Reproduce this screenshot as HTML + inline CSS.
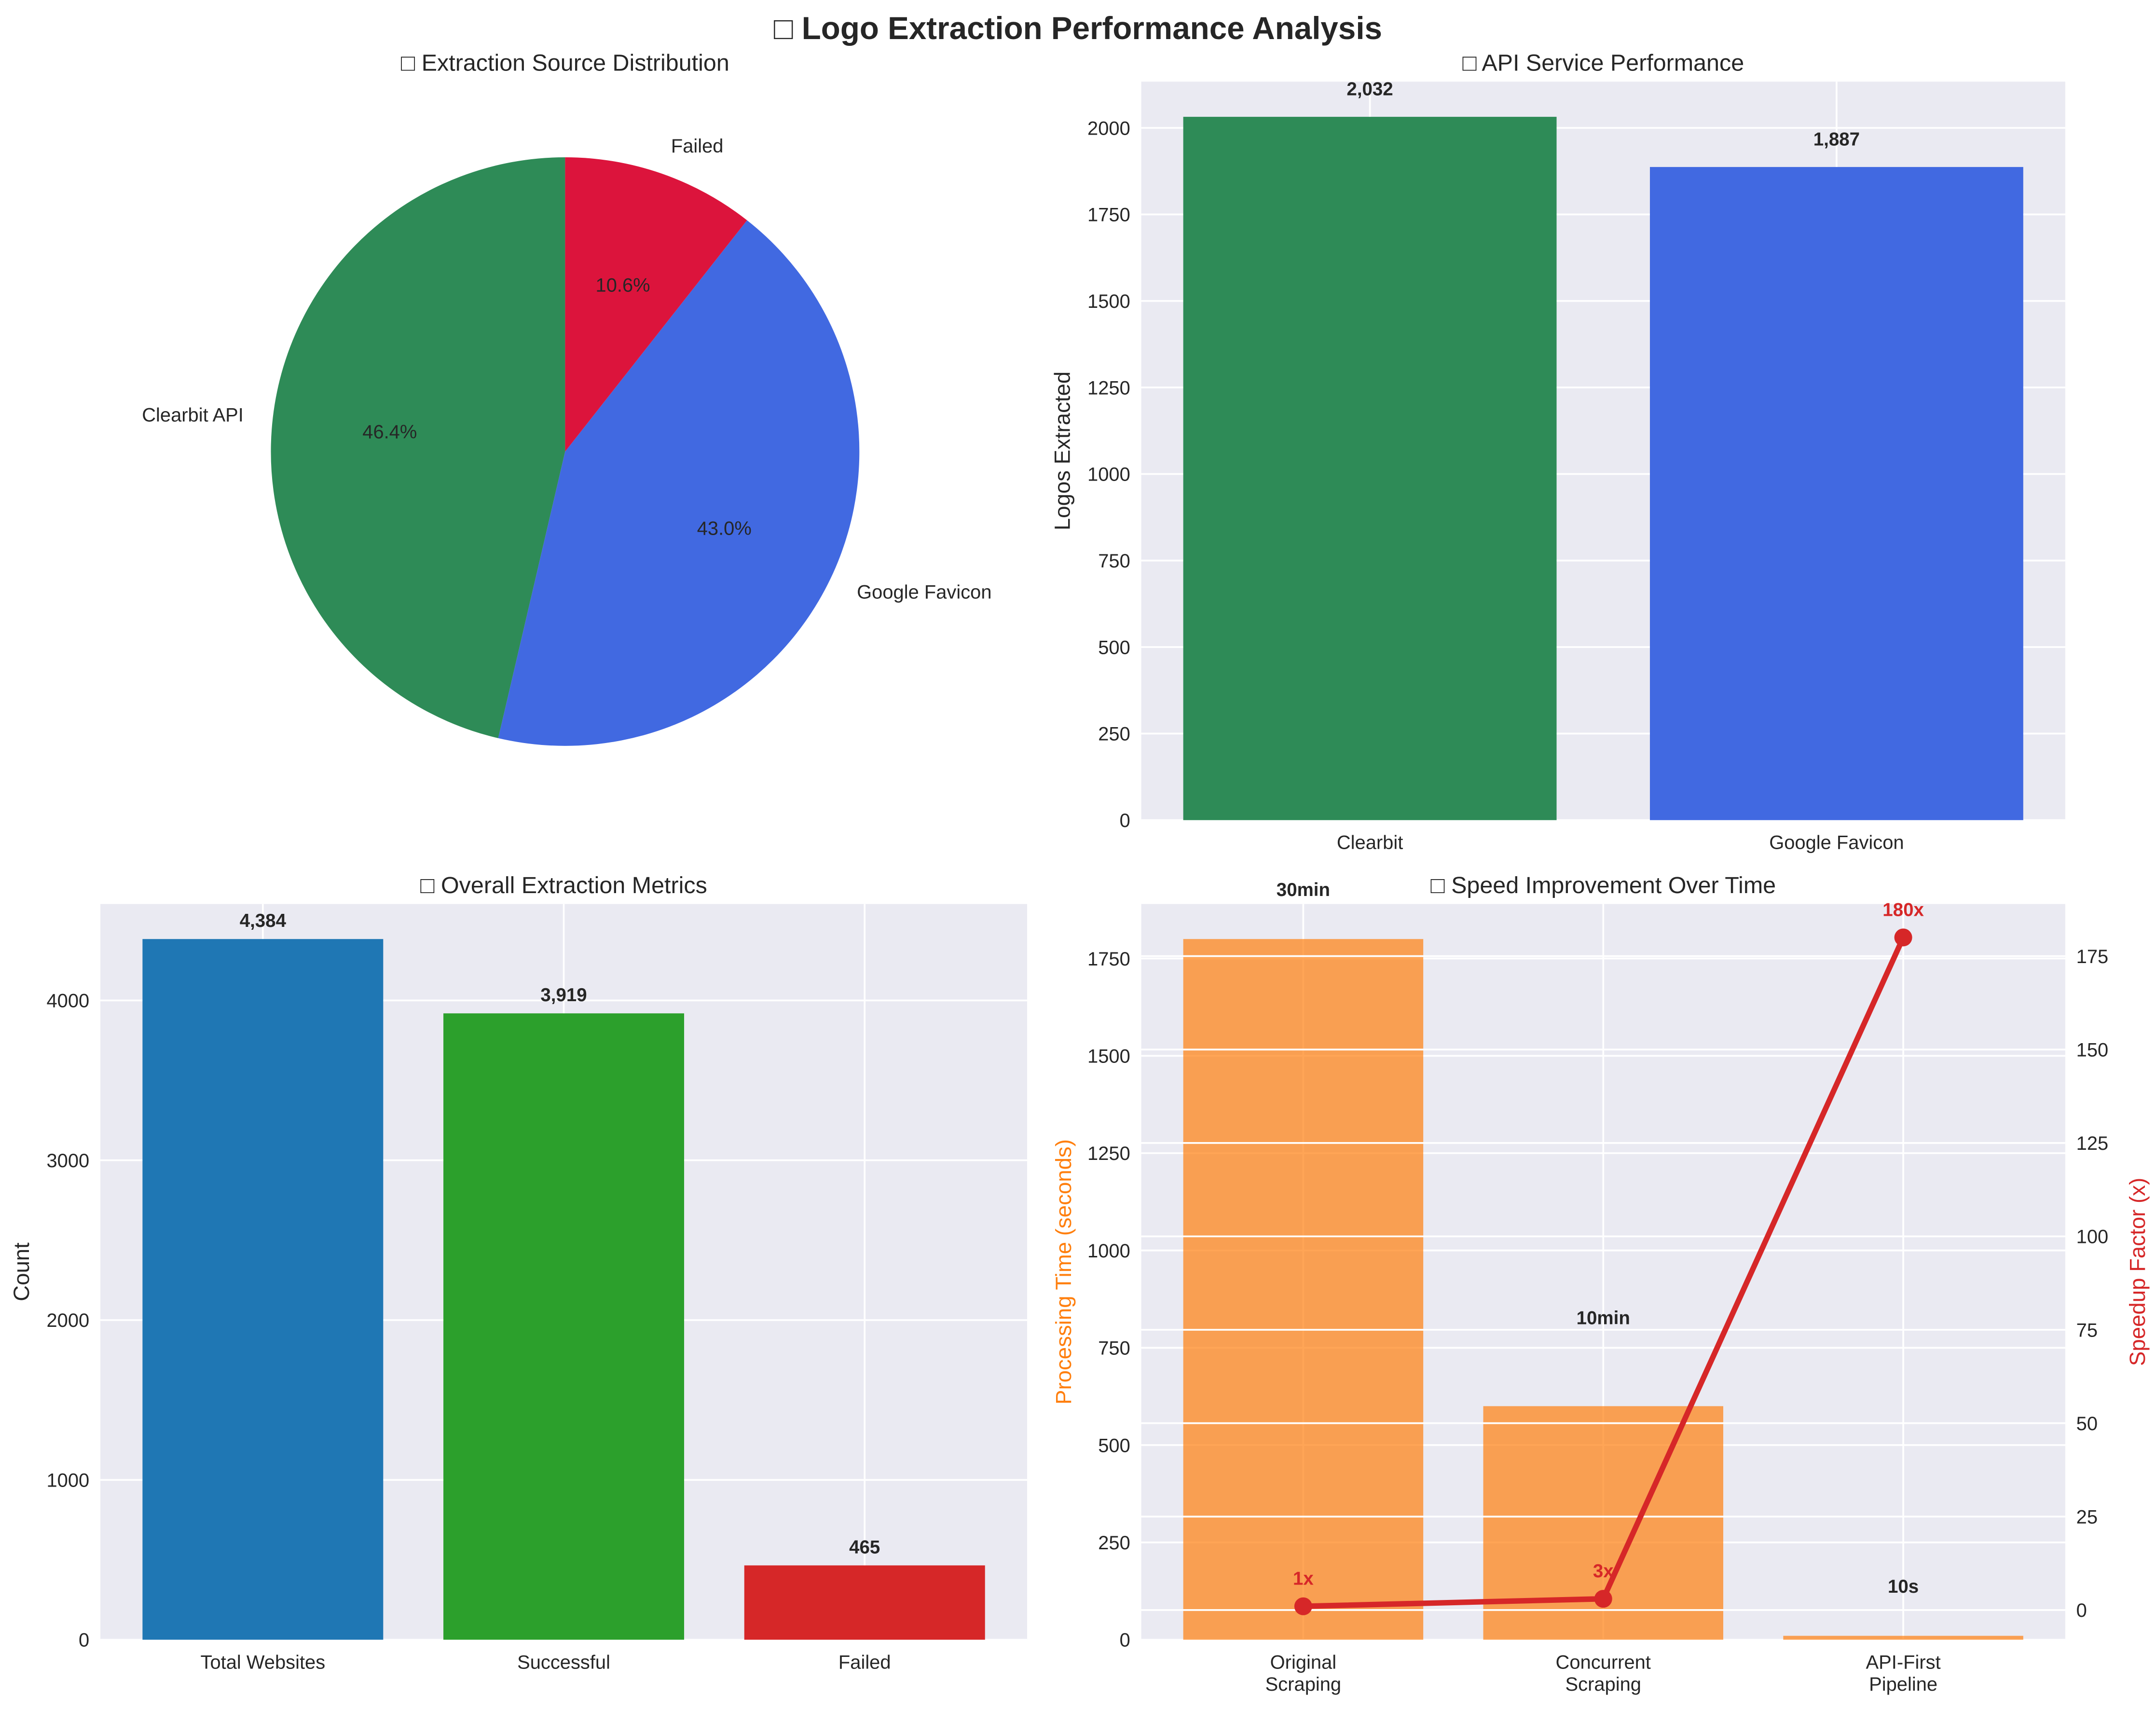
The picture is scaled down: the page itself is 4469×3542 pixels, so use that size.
<!DOCTYPE html>
<html><head><meta charset="utf-8"><style>
html,body{margin:0;padding:0;background:#fff}
svg{display:block}
text{font-family:"Liberation Sans","DejaVu Sans",sans-serif;fill:#262626}
</style></head><body>
<svg id="fig" width="4469" height="3542" viewBox="0 0 1568 1242" xmlns="http://www.w3.org/2000/svg">
<text x="784" y="28" text-anchor="middle" font-size="23" font-weight="bold">□ Logo Extraction Performance Analysis</text>
<g id="pie"></g>
<g id="api"></g>
<g id="overall"></g>
<g id="speed"></g>
</svg>
<script>
const pieLabels=["Clearbit API","Google Favicon","Failed"];
const pieValues=[2032,1887,465];
const pieColors=["#2e8b57","#4169e1","#dc143c"];
const apiCats=["Clearbit","Google Favicon"];
const apiValues=[2032,1887];
const apiTicks=[0,250,500,750,1000,1250,1500,1750,2000];
const overallCats=["Total Websites","Successful","Failed"];
const overallValues=[4384,3919,465];
const overallTicks=[0,1000,2000,3000,4000];
const speedCats=[["Original","Scraping"],["Concurrent","Scraping"],["API-First","Pipeline"]];
const speedTimes=[1800,600,10];
const speedTimeLabels=["30min","10min","10s"];
const speedLabelAnchors=[1900,800,110];
const speedFactors=[1,3,180];
const speedFactorLabels=["1x","3x","180x"];
const speedLeftTicks=[0,250,500,750,1000,1250,1500,1750];
const speedRightTicks=[0,25,50,75,100,125,150,175];

const NS="http://www.w3.org/2000/svg";
const TICK=14, TITLE=17, YLAB=16, VAL=13.5;
function mk(parent,tag,attrs,txt){const e=document.createElementNS(NS,tag);for(const k in attrs)e.setAttribute(k,attrs[k]);if(txt!==undefined)e.textContent=txt;parent.appendChild(e);return e;}
const fmt=v=>v.toLocaleString('en-US');

(function(){
 const g=document.getElementById('pie');
 const cx=411,cy=328,r=214;
 const t=mk(g,'text',{x:411,y:51,'text-anchor':'middle','font-size':TITLE},'□ Extraction Source Distribution');
 
 
 const total=pieValues.reduce((a,b)=>a+b,0);
 let a0=90;
 pieValues.forEach((v,i)=>{
  const sweep=v/total*360, a1=a0+sweep;
  const p=(a,rr)=>[cx+rr*Math.cos(a*Math.PI/180),cy-rr*Math.sin(a*Math.PI/180)];
  const [x0,y0]=p(a0,r),[x1,y1]=p(a1,r);
  const d=`M${cx},${cy} L${x0},${y0} A${r},${r} 0 ${sweep>180?1:0} 0 ${x1},${y1} Z`;
  const s=mk(g,'path',{d:d,fill:pieColors[i]});
  
  
  const am=a0+sweep/2;
  const [lx,ly]=p(am,r*1.1);
  const lt=mk(g,'text',{x:lx,y:ly+5,'text-anchor':Math.cos(am*Math.PI/180)<0?'end':'start','font-size':TICK},pieLabels[i]);
  
  
  const [px,py]=p(am,r*0.6);
  const pt=mk(g,'text',{x:px,y:py+5,'text-anchor':'middle','font-size':TICK},(v/total*100).toFixed(1)+'%');
  
  
  a0=a1;
 });
})();

function barAxes(g,box,cats,vals,colors,ymax,ticks,title,ylabel,prefix){
 const {l,r,t,b}=box;
 mk(g,'rect',{x:l,y:t,width:r-l,height:b-t,fill:'#eaeaf2'});
 const n=cats.length,span=(n-0.2)*1.1,unit=(r-l)/span,off=0.4+(n-0.2)*0.05;
 const X=i=>l+unit*(i+off), Y=v=>b-(b-t)*v/ymax;
 ticks.forEach(tv=>{
  mk(g,'line',{x1:l,x2:r,y1:Y(tv),y2:Y(tv),stroke:'#fff','stroke-width':1.3});
  const tt=mk(g,'text',{x:l-8,y:Y(tv)+5,'text-anchor':'end','font-size':TICK},tv);
  
  
 });
 cats.forEach((c,i)=>mk(g,'line',{x1:X(i),x2:X(i),y1:t,y2:b,stroke:'#fff','stroke-width':1.3}));
 cats.forEach((c,i)=>{
  const w=unit*0.8;
  const bar=mk(g,'rect',{x:X(i)-w/2,y:Y(vals[i]),width:w,height:b-Y(vals[i]),fill:colors[i]});
  
  
  const vl=mk(g,'text',{x:X(i),y:Y(vals[i]+50)-3,'text-anchor':'middle','font-size':VAL,'font-weight':'bold'},fmt(vals[i]));
  
  
  const xl=mk(g,'text',{x:X(i),y:b+21,'text-anchor':'middle','font-size':TICK},c);
  
  
 });
 const ti=mk(g,'text',{x:(l+r)/2,y:t-8,'text-anchor':'middle','font-size':TITLE},title);
 
 
 const yl=mk(g,'text',{x:0,y:0,'text-anchor':'middle','font-size':YLAB,transform:`translate(${l-52},${(t+b)/2}) rotate(-90)`},ylabel);
 
 
}
barAxes(document.getElementById('api'),{l:830,r:1502,t:59,b:596},apiCats,apiValues,["#2e8b57","#4169e1"],Math.max(...apiValues)*1.05,apiTicks,'□ API Service Performance','Logos Extracted','api');
barAxes(document.getElementById('overall'),{l:73,r:747,t:657,b:1192},overallCats,overallValues,["#1f77b4","#2ca02c","#d62728"],Math.max(...overallValues)*1.05,overallTicks,'□ Overall Extraction Metrics','Count','overall');

(function(){
 const g=document.getElementById('speed');
 const l=830,r=1502,t=657,b=1192;
 mk(g,'rect',{x:l,y:t,width:r-l,height:b-t,fill:'#eaeaf2'});
 const n=speedCats.length,span=(n-0.2)*1.1,unit=(r-l)/span,off=0.4+(n-0.2)*0.05;
 const X=i=>l+unit*(i+off);
 const lmax=Math.max(...speedTimes)*1.05;
 const YL=v=>b-(b-t)*v/lmax;
 const fmin=Math.min(...speedFactors),fmaxv=Math.max(...speedFactors),pad=(fmaxv-fmin)*0.05;
 const rlo=fmin-pad,rhi=fmaxv+pad;
 const YR=v=>b-(b-t)*(v-rlo)/(rhi-rlo);
 speedLeftTicks.forEach(tv=>{
  mk(g,'line',{x1:l,x2:r,y1:YL(tv),y2:YL(tv),stroke:'#fff','stroke-width':1.3});
  const tt=mk(g,'text',{x:l-8,y:YL(tv)+5,'text-anchor':'end','font-size':TICK},tv);
  
  
 });
 speedCats.forEach((c,i)=>mk(g,'line',{x1:X(i),x2:X(i),y1:t,y2:b,stroke:'#fff','stroke-width':1.3}));
 speedCats.forEach((c,i)=>{
  const w=unit*0.8;
  const bar=mk(g,'rect',{x:X(i)-w/2,y:YL(speedTimes[i]),width:w,height:b-YL(speedTimes[i]),fill:'#ff7f0e','fill-opacity':0.7});
  
  
  const vl=mk(g,'text',{x:X(i),y:YL(speedLabelAnchors[i])-3,'text-anchor':'middle','font-size':VAL,'font-weight':'bold'},speedTimeLabels[i]);
  
  
  c.forEach((ln,k)=>{
   const xl=mk(g,'text',{x:X(i),y:b+21+k*16,'text-anchor':'middle','font-size':TICK},ln);
   
   
  });
 });
 speedRightTicks.forEach(tv=>{
  mk(g,'line',{x1:l,x2:r,y1:YR(tv),y2:YR(tv),stroke:'#fff','stroke-width':1.3});
  const tt=mk(g,'text',{x:r+8,y:YR(tv)+5,'text-anchor':'start','font-size':TICK},tv);
  
  
 });
 const pts=speedFactors.map((v,i)=>X(i)+','+YR(v)).join(' ');
 const pl=mk(g,'polyline',{points:pts,fill:'none',stroke:'#d62728','stroke-width':4,'stroke-linejoin':'round'});
 
 
 speedFactors.forEach((v,i)=>{
  const c=mk(g,'circle',{cx:X(i),cy:YR(v),r:6.5,fill:'#d62728'});
  
  
  const lab=mk(g,'text',{x:X(i),y:YR(v+5)-2,'text-anchor':'middle','font-size':VAL,'font-weight':'bold',style:'fill:#d62728'},speedFactorLabels[i]);
  
  
 });
 const ti=mk(g,'text',{x:(l+r)/2,y:t-8,'text-anchor':'middle','font-size':TITLE},'□ Speed Improvement Over Time');
 
 
 const yl=mk(g,'text',{x:0,y:0,'text-anchor':'middle','font-size':YLAB,style:'fill:#ff7f0e',transform:`translate(${l-51},${(t+b)/2}) rotate(-90)`},'Processing Time (seconds)');
 
 
 const yr=mk(g,'text',{x:0,y:0,'text-anchor':'middle','font-size':YLAB,style:'fill:#d62728',transform:`translate(${r+58},${(t+b)/2}) rotate(-90)`},'Speedup Factor (x)');
 
 
})();
</script>
</body></html>
